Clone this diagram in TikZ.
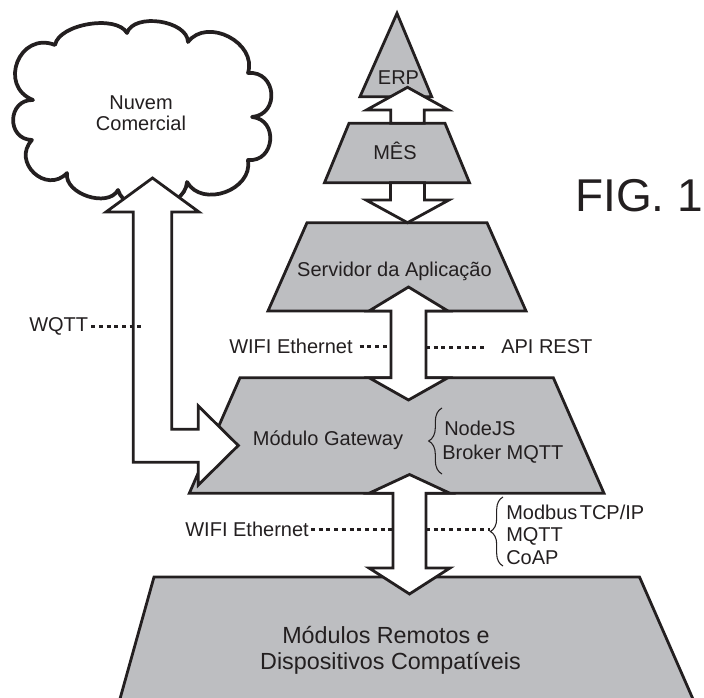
\documentclass[tikz,border=0pt]{standalone}
\usepackage{fontspec}
\setmainfont{Liberation Sans}
\usetikzlibrary{decorations.pathreplacing}
\definecolor{shapegray}{RGB}{189,190,193}
\definecolor{ink}{RGB}{35,31,32}
\begin{document}
\begin{tikzpicture}[x=0.75pt,y=-0.75pt,
  layer/.style={draw=ink,fill=shapegray,line width=2.1pt,line join=miter},
  bigarrow/.style={draw=ink,fill=white,line width=2.1pt,line join=miter},
  cloudline/.style={draw=ink,fill=white,line width=2.8pt,line join=round},
  lbl/.style={inner sep=0pt,text=ink,font=\fontsize{15}{18}\selectfont},
  lblbig/.style={inner sep=0pt,text=ink,font=\fontsize{17.5}{21}\selectfont},
  figlbl/.style={inner sep=0pt,text=ink,font=\fontsize{34.5}{40}\selectfont},
  dotline/.style={draw=ink,line width=2.3pt,dash pattern=on 3pt off 2.8pt},
  bracebox/.style={draw=ink,line width=0.8pt,decorate,decoration={brace,amplitude=#1}}
]
\useasboundingbox (0,0) rectangle (704,698);

% cloud
\path[cloudline] (55,45)
 to[bend left=70,looseness=0.75] (127,33)
 to[bend left=80,looseness=0.9] (188,42)
 to[bend left=80,looseness=1.2] (248,73)
 to[bend left=90,looseness=1.65] (252,117)
 to[bend left=90,looseness=1.6] (248,160)
 to[bend left=80,looseness=1.2] (187,182)
 to[bend left=80,looseness=1.05] (118,190)
 to[bend left=80,looseness=1.0] (67,173)
 to[bend left=90,looseness=1.6] (32,140)
 to[bend left=90,looseness=1.65] (33,100)
 to[bend left=90,looseness=1.65] (55,45) -- cycle;

% layers
\path[layer] (397,13.3) -- (431.7,96.7) -- (360,96.7) -- cycle;
\path[layer] (349,123.3) -- (445,123.3) -- (469.5,182.7) -- (324.5,182.7) -- cycle;
\path[layer] (307,222.7) -- (487,222.7) -- (526,311) -- (268,311) -- cycle;
\path[layer] (240,377.7) -- (553.3,377.7) -- (604,493.3) -- (189.3,493.3) -- cycle;
\path[layer] (154,577) -- (639.5,577) -- (696,706) -- (118,706) -- cycle;

% arrows
\path[bigarrow] (390.8,123.3) -- (390.8,110) -- (366.5,110) -- (407.5,87.3)
  -- (448.5,110) -- (424.2,110) -- (424.2,123.3) -- cycle;
\path[bigarrow] (390.5,182.7) -- (390.5,200) -- (366,200) -- (407.5,222.7)
  -- (449,200) -- (424.5,200) -- (424.5,182.7) -- cycle;
\path[bigarrow] (408.5,287) -- (448,311) -- (426,311) -- (426,377.7) -- (448,377.7)
  -- (408.5,400) -- (369,377.7) -- (391,377.7) -- (391,311) -- (369,311) -- cycle;
\path[bigarrow] (409.5,474.5) -- (450,493.3) -- (426,493.3) -- (426,568) -- (450,568)
  -- (409.5,594) -- (369,568) -- (393,568) -- (393,493.3) -- (369,493.3) -- cycle;
\path[bigarrow] (152.5,178) -- (199,212) -- (171.7,212) -- (171.7,429.3) -- (198.3,429.3)
  -- (198.3,406) -- (238.3,445.5) -- (198.3,485) -- (198.3,462.3) -- (133.3,462.3)
  -- (133.3,212) -- (106,212) -- cycle;

% shaft edges for leaders
\coordinate (wqEnd) at (143,324.5);
\coordinate (cL) at (391,347);
\coordinate (cR) at (426,347);
\coordinate (dL) at (393,531);
\coordinate (dR) at (426,531);

% texts
\node[lbl,anchor=base] (nuvem) at (141,110) {Nuvem};
\node[lbl,anchor=base] (comercial) at (141,131) {Comercial};
\node[lbl,anchor=base] (erp) at (398.5,85) {ERP};
\node[lbl,anchor=base] (mes) at (395,160) {MÊS};
\node[lbl,anchor=base] (servidor) at (394.5,276.5) {Servidor da Aplicação};
\node[lbl,anchor=base west] (wifiA) at (229,354) {WIFI Ethernet};
\node[lbl,anchor=base west] (api) at (501,354) {API REST};
\node[lbl,anchor=base west] (wqtt) at (29,332) {WQTT};
\node[lbl,anchor=base] (gateway) at (328,446) {Módulo Gateway};
\node[lbl,anchor=base west] (nodejs) at (444,436) {NodeJS};
\node[lbl,anchor=base west] (broker) at (442,460) {Broker MQTT};
\node[lbl,anchor=base east] (wifiB) at (309,537) {WIFI Ethernet};
\node[lbl,anchor=base west] (modbus) at (506,519.5) {Modbus\kern0.12em TCP/IP};
\node[lbl,anchor=base west] (mqtt) at (506,542) {MQTT};
\node[lbl,anchor=base west] (coap) at (506,565) {CoAP};
\node[lblbig,anchor=base] (remA) at (386,643) {Módulos Remotos e};
\node[lblbig,anchor=base] (remB) at (390.5,670) {Dispositivos Compatíveis};
\node[figlbl,anchor=base west] (fig) at (575,212) {FIG. 1};

% dotted leaders
\draw[dotline] ([xshift=2pt]wqtt.east) -- (wqtt.east -| wqEnd);
\draw[dotline] ([xshift=5pt]wifiA.east) -- (wifiA.east -| cL);
\draw[dotline] (api.west -| cR) -- ([xshift=-12pt]api.west);
\draw[dotline] ([xshift=1.5pt]wifiB.east) -- (wifiB.east -| dL);
\coordinate (brTop) at (503,497);
\coordinate (brBot) at (503,566);
\draw[dotline] (wifiB.east -| dR) -- ([xshift=-9.5pt]wifiB.east -| brTop);

% braces
\draw[bracebox=10pt] (442,474) -- (442,408);
\draw[bracebox=9.5pt] (brBot) -- (brTop);
\end{tikzpicture}
\end{document}
